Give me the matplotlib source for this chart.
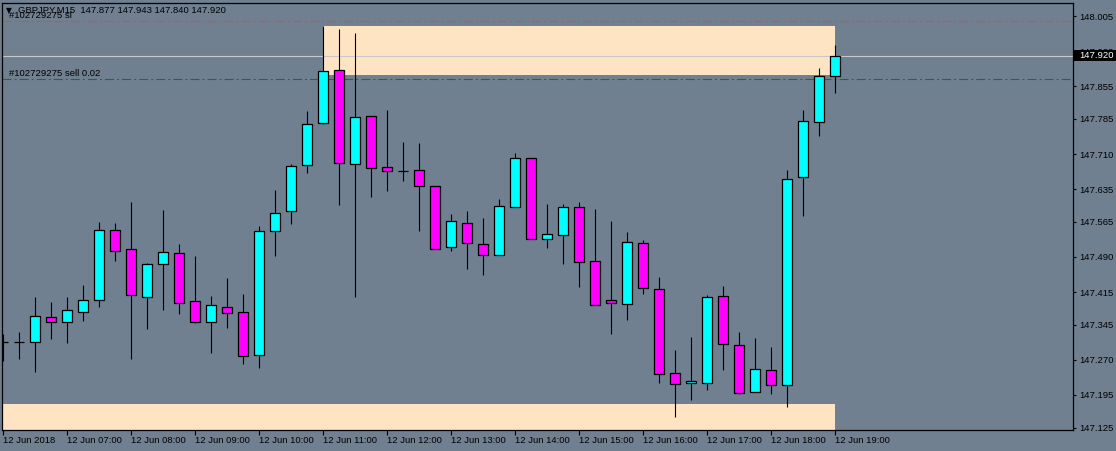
import matplotlib
matplotlib.use("Agg")
import matplotlib.pyplot as plt
from matplotlib.patches import Rectangle
import numpy as np

plt.rcParams['font.family'] = ['Liberation Sans', 'DejaVu Sans']
plt.rcParams['lines.scale_dashes'] = False

# GBPJPY M15, 12 Jun 2018 06:00 .. 19:00
opens = [147.308, 147.308, 147.309, 147.361, 147.350, 147.372, 147.397, 147.547,
         147.506, 147.404, 147.476, 147.498, 147.395, 147.352, 147.384, 147.372,
         147.280, 147.545, 147.588, 147.686, 147.776, 147.889, 147.688, 147.791,
         147.682, 147.674, 147.675, 147.641, 147.511, 147.562, 147.517, 147.494,
         147.596, 147.701, 147.528, 147.536, 147.596, 147.481, 147.397, 147.389,
         147.519, 147.421, 147.241, 147.220, 147.220, 147.406, 147.301, 147.201,
         147.248, 147.216, 147.660, 147.778, 147.877]
highs = [147.325, 147.329, 147.404, 147.394, 147.404, 147.429, 147.565, 147.563,
         147.607, 147.477, 147.590, 147.518, 147.492, 147.406, 147.445, 147.411,
         147.556, 147.633, 147.689, 147.802, 147.984, 147.977, 147.969, 147.792,
         147.804, 147.736, 147.734, 147.641, 147.581, 147.588, 147.573, 147.613,
         147.712, 147.701, 147.603, 147.603, 147.607, 147.593, 147.567, 147.543,
         147.526, 147.447, 147.291, 147.319, 147.408, 147.427, 147.329, 147.316,
         147.297, 147.676, 147.804, 147.893, 147.943]
lows = [147.268, 147.272, 147.245, 147.315, 147.305, 147.354, 147.384, 147.482,
        147.272, 147.335, 147.377, 147.369, 147.349, 147.285, 147.339, 147.262,
        147.253, 147.493, 147.561, 147.670, 147.775, 147.602, 147.405, 147.619,
        147.630, 147.652, 147.546, 147.506, 147.503, 147.465, 147.451, 147.494,
        147.596, 147.528, 147.510, 147.476, 147.426, 147.387, 147.326, 147.356,
        147.411, 147.221, 147.147, 147.185, 147.206, 147.249, 147.196, 147.201,
        147.198, 147.170, 147.578, 147.749, 147.840]
closes = [147.308, 147.308, 147.363, 147.352, 147.376, 147.399, 147.547, 147.502,
          147.408, 147.476, 147.500, 147.391, 147.350, 147.387, 147.370, 147.278,
          147.545, 147.585, 147.684, 147.774, 147.887, 147.690, 147.789, 147.680,
          147.673, 147.674, 147.641, 147.506, 147.566, 147.519, 147.494, 147.598,
          147.701, 147.528, 147.538, 147.596, 147.479, 147.387, 147.391, 147.523,
          147.423, 147.239, 147.218, 147.224, 147.404, 147.303, 147.199, 147.250,
          147.216, 147.656, 147.780, 147.876, 147.920]

time_labels = ["12 Jun 2018", "12 Jun 07:00", "12 Jun 08:00", "12 Jun 09:00",
               "12 Jun 10:00", "12 Jun 11:00", "12 Jun 12:00", "12 Jun 13:00",
               "12 Jun 14:00", "12 Jun 15:00", "12 Jun 16:00", "12 Jun 17:00",
               "12 Jun 18:00", "12 Jun 19:00"]
price_ticks = [148.005, 147.930, 147.855, 147.785, 147.710, 147.635, 147.565,
               147.490, 147.415, 147.345, 147.270, 147.195, 147.125]

# zones and order lines
upper_zone = (20, 52, 147.879, 147.984)
lower_zone = (0, 52, 147.050, 147.176)
sl_price = 147.994
order_price = 147.870
bid_price = 147.920

BG = '#708090'
UP = '#00FFFF'
DOWN = '#FF00FF'
ZONE = '#FFE4C4'

W, H = 1116, 451
fig = plt.figure(figsize=(W / 100, H / 100), dpi=100, facecolor=BG)
ax = fig.add_axes([2 / W, (H - 430) / H, 1071 / W, 427.5 / H])
ax.set_facecolor(BG)

n = len(opens)
x = np.arange(n)
o = np.array(opens)
c = np.array(closes)

# zones
for x0, x1, y0, y1 in (upper_zone, lower_zone):
    ax.add_patch(Rectangle((x0, y0), x1 - x0, y1 - y0, facecolor=ZONE,
                           edgecolor='none', zorder=1))

ax.axhline(sl_price, color='#FF4500', lw=0.8, ls=(0, (6.5, 2.2, 1.4, 2.2)), zorder=2)
ax.axhline(order_price, color='#0A800A', lw=0.8, ls=(0, (6.5, 2.2, 1.4, 2.2)), zorder=2)
ax.axhline(bid_price, color='#C8C8C8', lw=0.8, zorder=2)

# candles
ax.vlines(x, lows, highs, color='black', lw=0.8, zorder=3)
cols = np.where(c > o, UP, np.where(c < o, DOWN, 'black'))
ax.bar(x, c - o, bottom=o, width=0.6, color=cols, edgecolor='black',
       linewidth=0.9, zorder=4)

ax.set_xlim(-0.0625, 66.875)
ax.set_ylim(147.1201, 148.0339)

ax.set_xticks(np.arange(0, n, 4))
ax.set_xticklabels(time_labels, ha='left')
ax.set_yticks(price_ticks)
ax.set_yticklabels(["%.3f" % v for v in price_ticks])
ax.yaxis.tick_right()
ax.tick_params(axis='x', direction='out', length=3.5, width=0.8, pad=1,
               labelsize=6.8, colors='black')
ax.tick_params(axis='y', direction='out', length=2.5, width=0.8, pad=2,
               labelsize=6.8, colors='black')
for s in ax.spines.values():
    s.set_color('black')
    s.set_linewidth(0.9)

# header and order labels
def fx(px):
    return px / W

def fy(py):
    return 1 - py / H

fig.text(fx(5.5), fy(11), u"\u25BC", fontsize=5.5, va='center', ha='left',
         family=['DejaVu Sans'])
fig.text(fx(18), fy(10.5), "GBPJPY,M15  147.877 147.943 147.840 147.920",
         fontsize=6.8, va='center', ha='left')
fig.text(fx(9), fy(16), "#102729275 sl", fontsize=6.8, va='center', ha='left')
fig.text(fx(9), fy(73.3), "#102729275 sell 0.02", fontsize=6.8, va='center',
         ha='left')

# bid price marker on the price scale
fig.patches.append(Rectangle((fx(1074), fy(61)), 44 / W, 11 / H, facecolor='black',
                             edgecolor='none', transform=fig.transFigure,
                             zorder=5))
fig.text(fx(1079), fy(55.5), "%.3f" % bid_price, color='white', fontsize=6.8,
         va='center', ha='left', zorder=6)

fig.savefig('out.png', dpi=100, facecolor=BG)
